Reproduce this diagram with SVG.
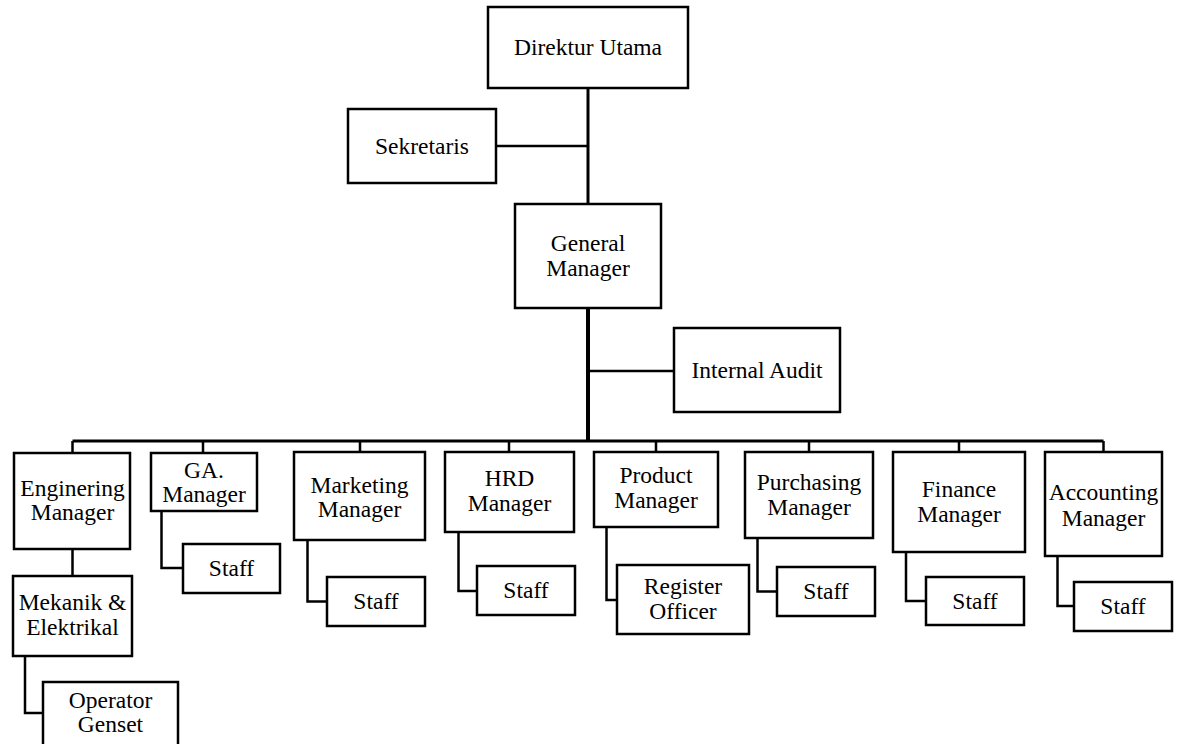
<svg xmlns="http://www.w3.org/2000/svg" width="1177" height="744" viewBox="0 0 1177 744">
<style>
.box{fill:#fff;stroke:#000;stroke-width:2.5}
.ln{fill:none;stroke:#000;stroke-width:2.5}
.t{font-family:"Liberation Serif","Times New Roman",serif;font-size:23.5px;fill:#000;text-anchor:middle}
</style>
<rect width="1177" height="744" fill="#fff"/>
<g id="connectors">
<line class="ln" x1="588" y1="88" x2="588" y2="205" style="stroke-width:3"/>
<line class="ln" x1="496" y1="146" x2="588" y2="146"/>
<line class="ln" x1="588" y1="308" x2="588" y2="442" style="stroke-width:4"/>
<line class="ln" x1="588" y1="371" x2="674" y2="371"/>
<line class="ln" x1="72.5" y1="441" x2="1103.5" y2="441" style="stroke-width:3"/>
<path class="ln" d="M72.5 441V453M203 441V453M360 441V452M509 441V452M656 441V452M809 441V452M959 441V452M1103.5 441V452"/>
<path class="ln" d="M72.5 549V576M25 656V713H43"/>
<path class="ln" d="M161.5 511V568H183"/>
<path class="ln" d="M307.5 540V601.5H327"/>
<path class="ln" d="M458.5 532V591H477"/>
<path class="ln" d="M606.5 527V600H617"/>
<path class="ln" d="M757.5 538V591.5H777"/>
<path class="ln" d="M906 552V601H926"/>
<path class="ln" d="M1057.5 556V606H1074"/>
</g>
<g id="direktur"><rect class="box" x="488" y="7" width="200" height="81"/><text class="t" x="588" y="55">Direktur Utama</text></g>
<g id="sekretaris"><rect class="box" x="348" y="109" width="148" height="74"/><text class="t" x="422" y="154">Sekretaris</text></g>
<g id="gm"><rect class="box" x="515" y="204" width="146" height="104"/><text class="t" x="588" y="251">General</text><text class="t" x="588" y="276">Manager</text></g>
<g id="audit"><rect class="box" x="674" y="328" width="166" height="84"/><text class="t" x="757" y="378">Internal Audit</text></g>
<g id="eng"><rect class="box" x="14" y="453" width="116" height="96"/><text class="t" x="72.5" y="496">Enginering</text><text class="t" x="72.5" y="520">Manager</text></g>
<g id="mek"><rect class="box" x="13" y="576" width="119" height="80"/><text class="t" x="72.5" y="610">Mekanik &amp;</text><text class="t" x="72.5" y="635">Elektrikal</text></g>
<g id="operator"><rect class="box" x="43" y="682" width="135" height="80"/><text class="t" x="110.5" y="708">Operator</text><text class="t" x="110.5" y="732">Genset</text></g>
<g id="ga"><rect class="box" x="151" y="453" width="106" height="58"/><text class="t" x="204" y="478">GA.</text><text class="t" x="204" y="502">Manager</text></g>
<g id="ga-staff"><rect class="box" x="183" y="544" width="97" height="49"/><text class="t" x="231.5" y="576">Staff</text></g>
<g id="mkt"><rect class="box" x="294" y="452" width="131" height="88"/><text class="t" x="359.5" y="493">Marketing</text><text class="t" x="359.5" y="517">Manager</text></g>
<g id="mkt-staff"><rect class="box" x="327" y="577" width="98" height="49"/><text class="t" x="376" y="609">Staff</text></g>
<g id="hrd"><rect class="box" x="445" y="452" width="129" height="80"/><text class="t" x="509.5" y="486">HRD</text><text class="t" x="509.5" y="511">Manager</text></g>
<g id="hrd-staff"><rect class="box" x="477" y="566" width="98" height="49"/><text class="t" x="526" y="598">Staff</text></g>
<g id="product"><rect class="box" x="594" y="452" width="124" height="75"/><text class="t" x="656" y="483">Product</text><text class="t" x="656" y="508">Manager</text></g>
<g id="register"><rect class="box" x="617" y="565" width="132" height="69"/><text class="t" x="683" y="594">Register</text><text class="t" x="683" y="619">Officer</text></g>
<g id="purchasing"><rect class="box" x="745" y="452" width="128" height="86"/><text class="t" x="809" y="490">Purchasing</text><text class="t" x="809" y="515">Manager</text></g>
<g id="pur-staff"><rect class="box" x="777" y="567" width="98" height="49"/><text class="t" x="826" y="599">Staff</text></g>
<g id="finance"><rect class="box" x="893" y="452" width="132" height="100"/><text class="t" x="959" y="497">Finance</text><text class="t" x="959" y="522">Manager</text></g>
<g id="fin-staff"><rect class="box" x="926" y="577" width="98" height="48"/><text class="t" x="975" y="609">Staff</text></g>
<g id="accounting"><rect class="box" x="1045" y="452" width="117" height="104"/><text class="t" x="1103.5" y="500">Accounting</text><text class="t" x="1103.5" y="526">Manager</text></g>
<g id="acc-staff"><rect class="box" x="1074" y="582" width="98" height="49"/><text class="t" x="1123" y="614">Staff</text></g>
</svg>
